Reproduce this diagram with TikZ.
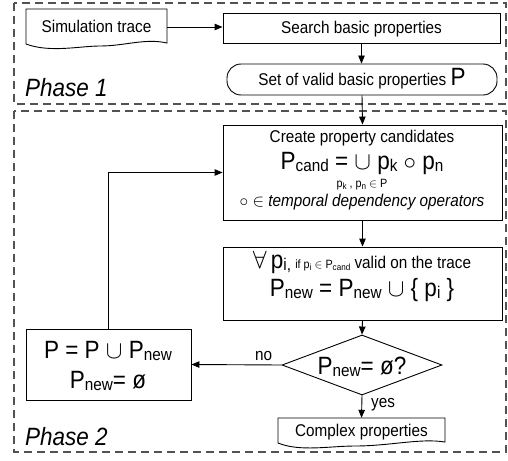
\documentclass[tikz,border=0pt]{standalone}
\usepackage{fontspec}
\setmainfont[FakeStretch=0.9]{Liberation Sans}
\usetikzlibrary{arrows.meta,shapes.geometric}

% font sizes used in the flow chart
\newcommand\fnorm{\fontsize{17}{20}\selectfont}
\newcommand\fbig{\fontsize{25}{28}\selectfont}
\newcommand\fsmall{\fontsize{12}{14}\selectfont}
\newcommand\fsub{\fontsize{9}{10}\selectfont}
\newcommand\lowered[1]{\raisebox{-2.5pt}{#1}}

\begin{document}
\begin{tikzpicture}[x=1pt,y=-1pt,
  box/.style={draw=black, line width=0.9pt, rectangle, inner sep=0pt,
    font=\fnorm, text height=14pt, text depth=2pt},
  docnode/.style={rectangle, inner sep=0pt, font=\fnorm,
    text height=14pt, text depth=2pt},
  docline/.style={draw=black, line width=0.9pt},
  decision/.style={diamond, draw=black, line width=0.9pt, inner sep=0pt,
    shape aspect=2.67, minimum width=160pt, minimum height=60pt},
  phase/.style={draw=black!68, line width=1.4pt, dash pattern=on 8pt off 5pt},
  phasetxt/.style={anchor=base west, inner sep=0pt,
    font=\fontsize{25}{28}\selectfont\itshape},
  arr/.style={-{Triangle[length=8pt,width=6.5pt]}, line width=0.9pt},
  txt/.style={anchor=base, inner sep=0pt, font=\fnorm},
  lbl/.style={inner sep=0pt, font=\fnorm},
]
\useasboundingbox (0,0) rectangle (508,460);

% phase frames
\draw[phase] (14,3) rectangle (506,104);
\draw[phase] (14,111) rectangle (506,452);
\node[phasetxt] (ph1) at (25,96) {Phase 1};
\node[phasetxt] (ph2) at (25,445) {Phase 2};

% phase 1
\node[docnode, minimum width=141pt, minimum height=36pt] (trace) at (96.5,27) {Simulation trace};
\draw[docline] (26,9) -- (26,44) .. controls (50,53) and (80,46) .. (100,46)
  .. controls (125,46) and (145,38) .. (167,43) -- (167,9) -- cycle;
\node[box, minimum width=277pt, minimum height=30pt] (search) at (361.5,28) {Search basic properties};
\node[box, rounded corners=14pt, minimum width=270pt, minimum height=31pt] (set) at (362,79.5)
  {Set of valid basic properties {\fbig P}};

% phase 2
\node[box, minimum width=279pt, minimum height=95pt] (create) at (362.5,172.5) {};
\node[txt] (c1) at (362,142) {Create property candidates};
\node[txt, font=\fbig] (c2) at (362,169)
  {P\lowered{\fnorm cand} = $\cup$ p\lowered{\fnorm k} $\circ$ p\lowered{\fnorm n}};
\node[txt, font=\fsmall] (c3) at (362,187)
  {p\lowered{\fsub k} , p\lowered{\fsub n} $\in$ P};
\node[txt] (c4) at (362,206) {$\circ$ $\in$ \textit{temporal dependency operators}};

\node[box, minimum width=279pt, minimum height=73pt] (forall) at (362.5,283.5) {};
\node[txt] (f1) at (362,268)
  {{\fbig$\forall$\,p}\lowered{\fnorm i,}\ {\fsmall if p\lowered{\fsub i} $\in$ P\lowered{\fsub cand}} valid on the trace};
\node[txt, font=\fbig] (f2) at (362,296)
  {P\lowered{\fnorm new} = P\lowered{\fnorm new} $\cup$ \{ p\lowered{\fnorm i} \}};

\node[decision] (dec) at (362,365) {};
\node[txt, font=\fbig] (dt) at (362,374) {P\lowered{\fnorm new}= ø?};

\node[box, minimum width=165pt, minimum height=71pt] (pbox) at (108.5,364.5) {};
\node[txt, font=\fbig] (p1) at (108,358) {P = P $\cup$ P\lowered{\fnorm new}};
\node[txt, font=\fbig] (p2) at (108,388) {P\lowered{\fnorm new}= ø};

\node[docnode, minimum width=167pt, minimum height=25pt] (complex) at (361.5,430.5) {Complex properties};
\draw[docline] (278,418) -- (278,443) .. controls (300,452) and (330,446) .. (355,446)
  .. controls (390,446) and (420,438) .. (445,442) -- (445,418) -- cycle;

% connectors
\draw[arr] (trace.east) -- (search.west |- trace.east);
\draw[arr] (search.south) -- (search.south |- set.north);
\draw[arr] (set.south) -- (create.north);
\draw[arr] (create.south) -- (forall.north);
\draw[arr] (forall.south) -- (dec.north);
\draw[arr] (dec.west) -- node[lbl, pos=0.2, anchor=base, yshift=4pt] {no} (pbox.east);
\draw[arr] (dec.south) -- node[lbl, pos=0.5, anchor=base west, xshift=9pt, yshift=-1pt] {yes} (complex.north);
\draw[arr] (pbox.north) |- (create.west);
\end{tikzpicture}
\end{document}
